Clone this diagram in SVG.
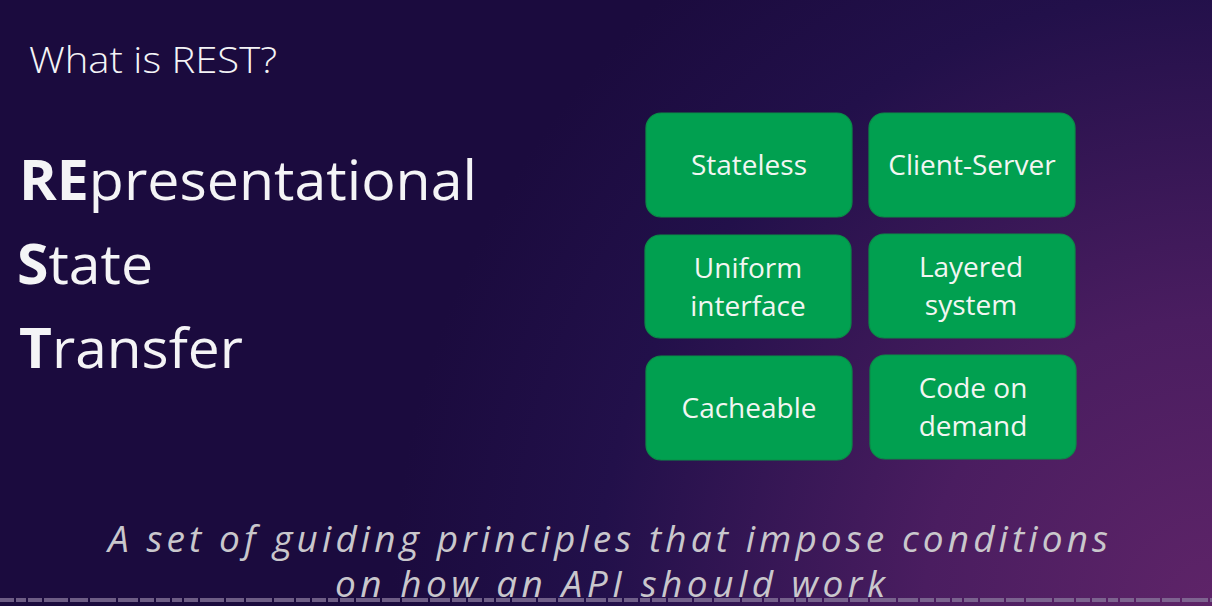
<svg xmlns="http://www.w3.org/2000/svg" width="1212" height="606" viewBox="0 0 1212 606">
  <defs>
    <radialGradient id="bg" cx="1212" cy="606" r="820" gradientUnits="userSpaceOnUse">
      <stop offset="0" stop-color="#5e2468"/>
      <stop offset="0.35" stop-color="#4a1d60"/>
      <stop offset="0.75" stop-color="#22104a"/>
      <stop offset="1" stop-color="#1b0b3e"/>
    </radialGradient>
    <style>
      .title { font-family: "Open Sans", "Liberation Sans", sans-serif; fill: #f4f4f6; }
      .box rect { fill: #01a050; stroke: #0a8d47; stroke-width: 1.2; }
      .box text { font-family: "Open Sans", "Liberation Sans", sans-serif; font-size: 28px; fill: #f2f6f2; text-anchor: middle; }
      .sub { font-family: "Open Sans", "Liberation Sans", sans-serif; font-style: italic; font-size: 37px; fill: #c9c7cc; }
    </style>
  </defs>

  <!-- background -->
  <rect width="1212" height="606" fill="#1b0b3e"/>
  <rect width="1212" height="606" fill="url(#bg)"/>

  <!-- headings -->
  <text class="title" x="29" y="73" font-size="37" font-weight="300" textLength="248" lengthAdjust="spacingAndGlyphs">What is REST?</text>
  <text class="title" x="19" y="200" font-size="55" textLength="458" lengthAdjust="spacingAndGlyphs"><tspan font-weight="700">RE</tspan>presentational</text>
  <text class="title" x="17" y="284" font-size="55" textLength="136" lengthAdjust="spacingAndGlyphs"><tspan font-weight="700">S</tspan>tate</text>
  <text class="title" x="19" y="368" font-size="55" textLength="224" lengthAdjust="spacingAndGlyphs"><tspan font-weight="700">T</tspan>ransfer</text>

  <!-- principle boxes -->
  <g id="stateless" class="box">
    <rect x="646" y="113" width="206" height="104" rx="15"/>
    <text x="749" y="175">Stateless</text>
  </g>
  <g id="client-server" class="box">
    <rect x="869" y="113" width="206" height="104" rx="15"/>
    <text x="972" y="175">Client-Server</text>
  </g>
  <g id="uniform-interface" class="box">
    <rect x="645" y="235" width="206" height="103" rx="15"/>
    <text x="748" y="278">Uniform</text>
    <text x="748" y="316">interface</text>
  </g>
  <g id="layered-system" class="box">
    <rect x="869" y="234" width="206" height="104" rx="15"/>
    <text x="971" y="277">Layered</text>
    <text x="971" y="315">system</text>
  </g>
  <g id="cacheable" class="box">
    <rect x="646" y="356" width="206" height="104" rx="15"/>
    <text x="749" y="418">Cacheable</text>
  </g>
  <g id="code-on-demand" class="box">
    <rect x="870" y="355" width="206" height="104" rx="15"/>
    <text x="973" y="398">Code on</text>
    <text x="973" y="436">demand</text>
  </g>

  <g id="connectors"/>

  <!-- caption -->
  <text class="sub" x="108" y="552" textLength="1000" lengthAdjust="spacing">A set of guiding principles that impose conditions</text>
  <text class="sub" x="335" y="597" textLength="550" lengthAdjust="spacing">on how an API should work</text>

  <!-- bottom segmented strip -->
  <line x1="0" y1="600" x2="1212" y2="600" stroke="#8a7a9e" stroke-opacity="0.75" stroke-width="4" stroke-dasharray="14 2 10 2 14 2 24 2 18 2 26 2 20 2 14 2"/>
</svg>
